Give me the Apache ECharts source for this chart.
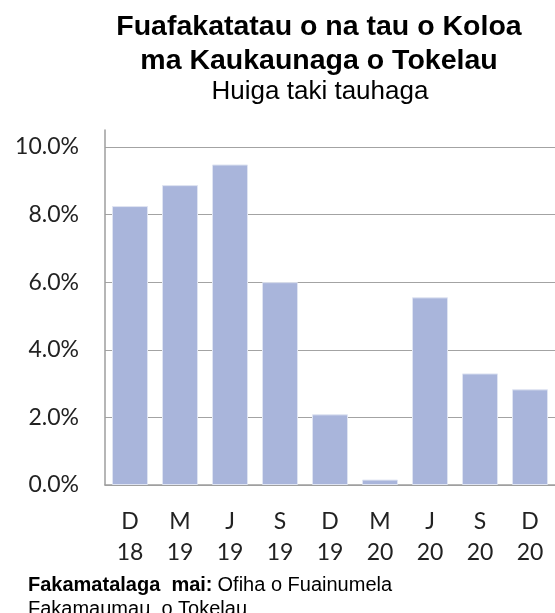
<!DOCTYPE html>
<html><head><meta charset="utf-8">
<script src="https://cdn.jsdelivr.net/npm/echarts@6/dist/echarts.min.js"></script>
<style>html,body{margin:0;padding:0;background:#fff}#c{width:555px;height:613px}</style>
</head><body><div id="c"></div>
<script>
const categories = ['D\n18','M\n19','J\n19','S\n19','D\n19','M\n20','J\n20','S\n20','D\n20'];
const values = [8.25, 8.87, 9.48, 6.0, 2.09, 0.16, 5.55, 3.30, 2.83];
const yTicks = [0, 2, 4, 6, 8, 10];
const titleText = 'Fuafakatatau o na tau o Koloa\nma Kaukaunaga o Tokelau';
const subtitleText = 'Huiga taki tauhaga';
const sourceBold = 'Fakamatalaga  mai:';
const sourceRest = 'Ofiha o Fuainumela';
const sourceLine2 = 'Fakamaumau  o Tokelau';

const chart = echarts.init(document.getElementById('c'), null, {renderer: 'canvas'});
chart.setOption({
  animation: false,
  backgroundColor: '#fff',
  title: [
    {text: titleText, left: 314, top: 5, textAlign: 'center',
     textStyle: {fontFamily: 'Liberation Sans', fontWeight: 'bold', fontSize: 28.5, lineHeight: 34, color: '#000'}},
    {text: subtitleText, left: 315, top: 72, textAlign: 'center',
     textStyle: {fontFamily: 'Liberation Sans', fontWeight: 'normal', fontSize: 26, lineHeight: 30, color: '#000'}},
    {text: '{b|' + sourceBold + '} {r|' + sourceRest + '}\n{r|' + sourceLine2 + '}', left: 23, top: 568,
     textStyle: {rich: {
       b: {fontFamily: 'Liberation Sans', fontWeight: 'bold', fontSize: 20, lineHeight: 24, color: '#000'},
       r: {fontFamily: 'Liberation Sans', fontWeight: 'normal', fontSize: 20, lineHeight: 24, color: '#000'}
     }}}
  ],
  grid: {left: 105, right: 0, top: 130, bottom: 128, containLabel: false},
  xAxis: {
    type: 'category', data: categories,
    axisLine: {show: true, lineStyle: {color: '#9e9e9e', width: 1.5}},
    axisTick: {show: false},
    axisLabel: {fontFamily: 'Lato', fontSize: 23, lineHeight: 31, color: '#222', margin: 21, interval: 0}
  },
  yAxis: {
    type: 'value', min: yTicks[0], max: 10.5, interval: yTicks[1] - yTicks[0],
    axisLine: {show: true, lineStyle: {color: '#9e9e9e', width: 1.5}},
    axisTick: {show: false},
    axisLabel: {fontFamily: 'Lato', fontSize: 23, color: '#222', margin: 26, showMaxLabel: false,
      formatter: v => (yTicks.indexOf(v) >= 0 ? v.toFixed(1) + '%' : '')},
    splitLine: {show: true, showMaxLine: false, lineStyle: {color: '#a3a3a3', width: 1.2}}
  },
  series: [{
    type: 'bar', data: values, barCategoryGap: '28%',
    itemStyle: {color: '#A9B5DB', borderColor: '#dfe4f2', borderWidth: 1}
  }]
});
</script></body></html>
